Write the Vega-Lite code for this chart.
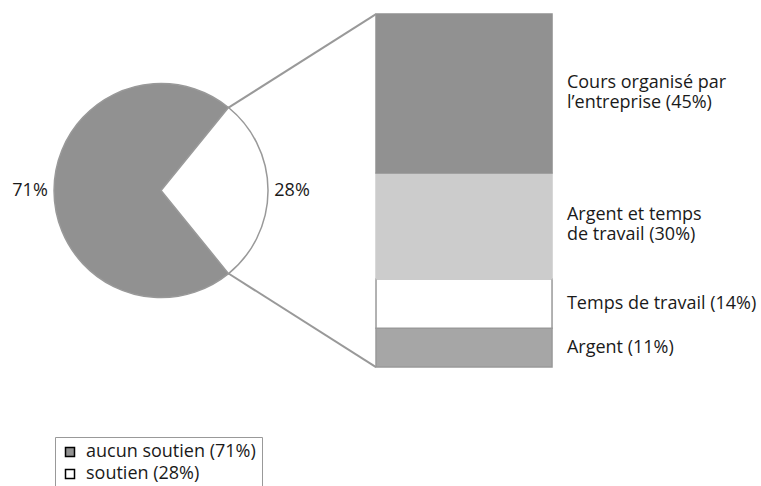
{
  "$schema": "https://vega.github.io/schema/vega-lite/v6.json",
  "width": 761,
  "height": 486,
  "autosize": "none",
  "padding": 0,
  "background": "white",
  "config": {"view": {"stroke": null}, "font": "Open Sans"},
  "datasets": {
    "pie": [
      {"support": "aucun soutien (71%)", "label": "71%", "value": 71, "rank": 1},
      {"support": "soutien (28%)", "label": "28%", "value": 28, "rank": 2}
    ],
    "bar": [
      {"type": "Argent", "label": "Argent (11%)", "value": 11, "rank": 1},
      {"type": "Temps de travail", "label": "Temps de travail (14%)", "value": 14, "rank": 2},
      {"type": "Argent et temps de travail", "label": "Argent et temps\nde travail (30%)", "value": 30, "rank": 3},
      {"type": "Cours organisé par l’entreprise", "label": "Cours organisé par\nl’entreprise (45%)", "value": 45, "rank": 4}
    ]
  },
  "layer": [
    {
      "data": {"name": "bar"},
      "transform": [
        {"stack": "value", "groupby": [], "sort": [{"field": "rank", "order": "ascending"}], "as": ["y0", "y1"]}
      ],
      "mark": {"type": "rect", "strokeWidth": 1.5},
      "encoding": {
        "x": {"datum": 49.41, "type": "quantitative", "scale": {"domain": [0, 100], "nice": false, "zero": false}, "axis": null},
        "x2": {"datum": 72.54},
        "y": {"field": "y0", "type": "quantitative", "scale": {"domain": [-33.7, 104], "nice": false, "zero": false}, "axis": null},
        "y2": {"field": "y1"},
        "color": {
          "field": "type", "type": "nominal", "legend": null,
          "scale": {
            "domain": ["Argent", "Temps de travail", "Argent et temps de travail", "Cours organisé par l’entreprise"],
            "range": ["#a6a6a6", "#ffffff", "#cccccc", "#919191"]
          }
        },
        "stroke": {
          "field": "type", "type": "nominal", "legend": null,
          "scale": {
            "domain": ["Argent", "Temps de travail", "Argent et temps de travail", "Cours organisé par l’entreprise"],
            "range": ["#999999", "#999999", "#cccccc", "#919191"]
          }
        }
      }
    },
    {
      "data": {"values": [{}]},
      "mark": {"type": "rule", "color": "#999999", "strokeWidth": 2},
      "encoding": {
        "x": {"datum": 30.03, "type": "quantitative"},
        "y": {"datum": 73.5, "type": "quantitative"},
        "x2": {"datum": 49.41},
        "y2": {"datum": 100}
      }
    },
    {
      "data": {"values": [{}]},
      "mark": {"type": "rule", "color": "#999999", "strokeWidth": 2},
      "encoding": {
        "x": {"datum": 30.03, "type": "quantitative"},
        "y": {"datum": 26.5, "type": "quantitative"},
        "x2": {"datum": 49.41},
        "y2": {"datum": 0}
      }
    },
    {
      "data": {"name": "pie"},
      "mark": {"type": "arc", "outerRadius": 107, "stroke": "#999999", "strokeWidth": 1.5},
      "encoding": {
        "x": {"datum": 21.16, "type": "quantitative"},
        "y": {"datum": 50, "type": "quantitative"},
        "theta": {"field": "value", "type": "quantitative", "stack": true, "scale": {"range": [2.459, 8.742]}},
        "order": {"field": "rank", "type": "quantitative"},
        "fill": {
          "field": "support", "type": "nominal",
          "scale": {"domain": ["aucun soutien (71%)", "soutien (28%)"], "range": ["#919191", "#ffffff"]},
          "legend": {
            "orient": "none", "legendX": 55, "legendY": 437, "title": null,
            "strokeColor": "#999999", "padding": 6,
            "symbolType": "square", "symbolSize": 81, "symbolStrokeWidth": 1.5, "symbolStrokeColor": "#000000",
            "labelFont": "Open Sans", "labelFontSize": 18, "labelColor": "#1a1a1a", "labelLimit": 400,
            "labelOffset": 7, "rowPadding": 4
          }
        }
      }
    },
    {
      "data": {"name": "pie"},
      "mark": {"type": "text", "radius": 131, "fontSize": 18, "align": "center", "baseline": "middle", "color": "#1a1a1a"},
      "encoding": {
        "x": {"datum": 21.16, "type": "quantitative"},
        "y": {"datum": 50, "type": "quantitative"},
        "theta": {"field": "value", "type": "quantitative", "stack": true},
        "order": {"field": "rank", "type": "quantitative"},
        "text": {"field": "label"}
      }
    },
    {
      "data": {"name": "bar"},
      "transform": [
        {"stack": "value", "groupby": [], "sort": [{"field": "rank", "order": "ascending"}], "as": ["y0", "y1"]},
        {"calculate": "(datum.y0 + datum.y1) / 2", "as": "ymid"},
        {"filter": "indexof(datum.label, '\\n') < 0"}
      ],
      "mark": {"type": "text", "align": "left", "baseline": "middle", "fontSize": 18, "color": "#1a1a1a"},
      "encoding": {
        "x": {"datum": 74.5, "type": "quantitative"},
        "y": {"field": "ymid", "type": "quantitative"},
        "text": {"field": "label"}
      }
    },
    {
      "data": {"name": "bar"},
      "transform": [
        {"stack": "value", "groupby": [], "sort": [{"field": "rank", "order": "ascending"}], "as": ["y0", "y1"]},
        {"calculate": "(datum.y0 + datum.y1) / 2", "as": "ymid"},
        {"filter": "indexof(datum.label, '\\n') >= 0"}
      ],
      "mark": {"type": "text", "align": "left", "baseline": "middle", "fontSize": 18, "lineHeight": 20, "lineBreak": "\n", "dy": -11, "color": "#1a1a1a"},
      "encoding": {
        "x": {"datum": 74.5, "type": "quantitative"},
        "y": {"field": "ymid", "type": "quantitative"},
        "text": {"field": "label"}
      }
    }
  ]
}
